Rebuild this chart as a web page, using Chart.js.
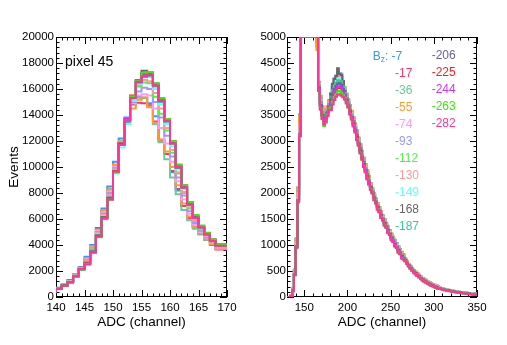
<!DOCTYPE html>
<html>
<head>
<meta charset="utf-8">
<script src="https://cdn.jsdelivr.net/npm/chart.js@4.4.1/dist/chart.umd.min.js"></script>
<style>
  html, body { margin: 0; padding: 0; background: #fff; }
  #wrap { position: relative; width: 507px; height: 345px; overflow: hidden; }
  canvas { position: absolute; top: 0; }
</style>
</head>
<body>
<div id="wrap">
  <canvas id="leftPanel" width="250" height="345" style="left:0;width:250px;height:345px"></canvas>
  <canvas id="rightPanel" width="257" height="345" style="left:250px;width:257px;height:345px"></canvas>
</div>
<script>
// B_z settings, one histogram each
const bzValues = [-7, -17, -36, -55, -74, -93, -112, -130, -149, -168, -187, -206, -225, -244, -263, -282];
const bzColors = ["#3399ff", "#ff3366", "#66cc99", "#ff9933", "#ff99ff", "#9999ff", "#55ee44", "#ff9999",
                  "#66ffff", "#666666", "#33cc99", "#666699", "#ff1a1a", "#cc33ff", "#33ee00", "#ff3399"];

// left panel: pedestal region, 1 ADC channel per bin (lower edges 140..169, last edge 170)
const leftBinEdges = [140, 141, 142, 143, 144, 145, 146, 147, 148, 149, 150, 151, 152, 153, 154, 155,
                      156, 157, 158, 159, 160, 161, 162, 163, 164, 165, 166, 167, 168, 169, 170];
const leftXTicks = [140, 145, 150, 155, 160, 165, 170];
const leftYTicks = [0, 2000, 4000, 6000, 8000, 10000, 12000, 14000, 16000, 18000, 20000];

const leftBz7   = [380,720,960,1300,1750,2300,3100,4000,5300,6800,8500,10400,12200,13800,15000,15400,15300,14900,13900,12000,11000,9600,8200,7000,6100,5400,4900,4450,4000,3750];
const leftBz17  = [370,700,950,1250,1700,2250,2950,3850,5300,6700,8300,10100,11900,13500,14800,14950,14900,14750,13500,12100,11000,9700,8300,7000,6050,5350,4850,4400,4000,3650];
const leftBz36  = [390,710,970,1240,1700,2250,3000,3900,5200,6700,8300,10200,12000,13600,14900,15200,15350,14650,13300,11900,10600,9200,7900,6700,5900,5250,4800,4400,4050,3700];
const leftBz55  = [380,700,960,1230,1690,2230,2950,3850,5150,6650,8250,10150,11950,13550,14500,15200,15350,14600,13400,12100,11200,10000,8600,7200,6200,5400,4900,4450,4050,3750];
const leftBz74  = [370,690,940,1210,1680,2200,2900,3800,5100,6500,8100,10000,11900,13500,14900,15500,15600,15500,14500,13000,11800,10400,8900,7500,6400,5600,5000,4550,4150,3800];
const leftBz93  = [360,680,930,1200,1660,2180,2850,3750,5000,6400,8000,9900,11800,13400,15000,15800,16100,16000,15000,13800,12400,10800,9200,7800,6600,5700,5100,4600,4200,3850];
const leftBz112 = [350,670,920,1190,1650,2170,2800,3700,4950,6350,7900,9800,11750,13500,15200,16200,16500,16450,15400,14100,12800,11100,9500,8000,6800,5850,5200,4650,4250,3850];
const leftBz130 = [350,660,910,1180,1640,2160,2750,3650,4900,6300,7850,9800,11800,13550,15300,16300,16700,16600,15700,14500,13000,11300,9600,8100,6900,5900,5250,4700,4250,3900];
const leftBz149 = [340,650,900,1170,1620,2150,2700,3600,4800,6200,7700,9500,11500,13300,15100,16400,16900,16900,16000,14800,13300,11600,9800,8300,7050,6000,5300,4750,4300,3900];
const leftBz168 = [340,640,890,1160,1610,2140,2650,3550,4750,6150,7650,9700,11700,13500,15400,16700,17400,17200,16300,15000,13500,11800,9950,8400,7100,6050,5350,4800,4300,3950];
const leftBz187 = [340,640,890,1150,1610,2140,2650,3550,4700,6100,7600,9650,11700,13500,15300,16600,17100,17000,16200,15000,13500,11800,10000,8450,7150,6100,5350,4800,4350,3950];
const leftBz206 = [330,630,880,1140,1600,2150,2600,3500,4700,6100,7600,9700,11800,13600,15400,16550,17150,17100,16300,15100,13600,11850,10050,8500,7200,6150,5400,4850,4350,4000];
const leftBz225 = [330,620,870,1130,1590,2140,2600,3450,4650,6050,7550,9650,11800,13650,15500,16650,17200,17250,16400,15200,13650,11900,10100,8550,7250,6200,5450,4900,4400,4000];
const leftBz244 = [330,620,870,1130,1590,2130,2550,3450,4650,6050,7500,9600,11750,13700,15400,16500,17100,17200,16400,15200,13700,11950,10150,8600,7300,6250,5450,4900,4450,4050];
const leftBz263 = [320,610,860,1120,1580,2120,2550,3400,4600,6000,7500,9600,11700,13600,15450,16650,17250,17300,16450,15300,13700,12000,10200,8600,7300,6300,5500,4950,4450,4050];
const leftBz282 = [330,620,870,1130,1600,2150,2500,3450,4650,6050,7500,9650,11700,13600,15300,16550,16950,17100,16250,15150,13550,11800,10000,8450,7150,6100,5350,4800,4300,3950];

// right panel: full spectrum, 2 ADC channels per bin from 130 to 350
const rightBinStart = 130;
const rightBinWidth = 2;
const rightXTicks = [150, 200, 250, 300, 350];
const rightYTicks = [0, 500, 1000, 1500, 2000, 2500, 3000, 3500, 4000, 4500, 5000];

const rightBz7 = [0,0,0,30,160,520,1120,2100,3500,6100,9600,13000,15400,15600,13300,10300,7900,6100,4900,
  4140,3860,3670,3530,3610,3650,3790,3920,4050,4120,4200,4220,4250,4190,4140,3990,3910,3790,3690,3560,3460,3320,3200,3050,2940,2790,2680,2540,2440,2310,
  2190,2070,1990,1880,1810,1720,1630,1570,1480,1430,1340,1290,1200,1160,1080,1040,960,920,850,820,
  740,680,630,600,550,520,480,450,430,390,360,350,320,300,290,260,250,230,220,200,
  180,172,158,152,144,139,129,126,117,113,106,103,96,93,87,85,79,77,71,69,63];
const rightBz17 = [0,0,0,30,150,510,1100,2080,3450,6000,9400,12700,15000,15100,13000,10100,7800,6000,4850,
  4080,3810,3620,3470,3550,3620,3730,3800,3910,4010,4050,4090,4120,4070,3990,3960,3870,3750,3650,3520,3420,3280,3160,3010,2900,2750,2640,2500,2400,2270,
  2160,2050,1960,1860,1780,1690,1620,1530,1470,1390,1330,1250,1190,1120,1070,1000,950,880,840,780,
  720,680,620,580,540,500,470,440,410,380,350,330,310,290,270,250,240,220,210,190,
  175,166,154,146,140,132,126,119,113,106,102,96,92,86,83,78,75,70,67,62,59];
const rightBz36 = [0,0,0,30,170,530,1130,2110,3520,6050,9500,12800,15200,15400,13200,10200,7700,5900,4800,
  4120,3870,3650,3540,3580,3670,3770,3900,4050,4190,4230,4290,4300,4250,4150,4040,3890,3810,3670,3580,3440,3340,3180,3070,2920,2810,2660,2560,2420,2330,
  2180,2090,1970,1900,1790,1730,1640,1550,1500,1410,1360,1270,1220,1140,1100,1020,980,900,870,800,
  730,690,630,590,560,510,490,450,420,400,360,340,330,300,280,270,250,230,220,210,
  178,171,161,150,146,137,131,124,119,111,108,101,98,91,89,83,81,75,73,67,65];
const rightBz55 = [0,0,0,30,160,520,1110,2090,3480,6000,9300,12600,15000,15300,13100,10000,7600,5800,4750,
  4120,3850,3670,3520,3600,3670,3780,3900,4060,4150,4230,4250,4280,4230,4130,4010,3910,3800,3690,3570,3460,3330,3200,3060,2940,2800,2680,2550,2440,2320,
  2190,2080,1990,1890,1810,1720,1650,1560,1500,1420,1360,1280,1220,1150,1100,1030,980,910,870,810,
  740,690,640,600,560,520,490,460,430,400,370,350,330,310,290,270,250,240,220,210,
  181,172,162,152,147,139,132,126,120,113,109,103,98,93,89,85,81,77,73,69,65];
const rightBz74 = [0,0,0,25,140,480,1060,1990,3320,5800,9000,12400,15000,15500,13600,10700,8200,6300,5000,
  4100,3800,3590,3480,3520,3630,3740,3880,4040,4180,4250,4270,4310,4250,4120,3990,3850,3770,3630,3540,3400,3300,3140,3030,2880,2770,2620,2520,2380,2290,
  2150,2060,1950,1870,1770,1700,1610,1540,1460,1400,1320,1260,1180,1130,1060,1010,940,890,830,790,
  720,670,625,580,545,500,475,440,410,385,350,335,310,295,270,255,235,225,205,195,
  175,165,156,145,141,133,125,121,113,107,102,97,92,87,83,79,75,71,67,63,59];
const rightBz93 = [0,0,0,25,140,470,1050,1980,3300,5750,8900,12300,15100,15700,13800,10900,8300,6400,5050,
  4080,3820,3600,3490,3530,3610,3750,3910,4080,4210,4260,4320,4310,4300,4160,3990,3870,3760,3650,3520,3420,3280,3160,3010,2900,2750,2640,2500,2400,2270,
  2160,2050,1960,1860,1780,1690,1620,1530,1470,1390,1330,1250,1190,1120,1070,1000,950,880,840,780,
  725,670,620,585,540,505,470,445,410,380,355,330,315,290,275,250,240,220,210,190,
  176,164,157,144,142,131,127,119,114,106,103,96,93,86,84,78,76,70,68,62,60];
const rightBz112 = [0,0,0,25,140,470,1040,1970,3290,5700,8800,12200,15000,16000,14200,11300,8700,6600,5100,
  4060,3740,3560,3410,3490,3570,3710,3850,3990,4080,4140,4170,4200,4150,4070,3910,3830,3710,3610,3480,3380,3240,3120,2970,2860,2710,2600,2460,2360,2230,
  2140,2020,1940,1830,1760,1660,1600,1500,1450,1360,1310,1220,1170,1090,1050,970,930,850,820,750,
  715,655,615,565,535,485,465,425,405,365,345,315,305,275,265,235,230,205,200,175,
  173,157,153,137,138,125,123,112,111,99,100,89,90,79,81,71,73,63,65,55,57];
const rightBz130 = [0,0,0,25,140,480,1050,1990,3310,5750,8900,12300,15100,15900,14000,11100,8500,6500,5050,
  4100,3790,3610,3460,3540,3610,3750,3870,4000,4070,4150,4170,4200,4150,4090,3970,3850,3770,3630,3540,3400,3300,3140,3030,2880,2770,2620,2520,2380,2290,
  2160,2050,1970,1860,1780,1690,1630,1530,1470,1390,1340,1250,1190,1120,1080,1000,960,880,850,780,
  730,670,630,580,550,500,480,440,420,380,360,330,320,290,280,250,245,220,215,190,
  178,166,158,146,143,133,128,120,116,107,105,97,95,87,86,79,78,71,70,63,62];
const rightBz149 = [0,0,0,20,120,440,980,1870,3150,5600,8700,12200,15200,16300,14500,11600,8900,6700,5150,
  4040,3760,3540,3430,3470,3590,3690,3870,4010,4100,4160,4200,4210,4180,4080,3950,3810,3730,3590,3500,3360,3260,3100,2990,2840,2730,2580,2480,2340,2250,
  2120,2040,1920,1850,1740,1680,1580,1520,1430,1380,1290,1240,1150,1110,1030,990,910,870,800,770,
  705,665,605,575,525,495,455,435,395,375,335,325,295,285,255,245,220,215,190,185,
  167,163,147,143,132,131,117,118,105,105,94,95,84,85,75,77,67,69,59,61,51];
const rightBz168 = [0,0,0,20,120,440,980,1860,3140,5600,8800,12300,15300,16500,14700,11700,9000,6800,5150,
  4050,3740,3540,3410,3470,3580,3700,3910,4100,4190,4250,4400,4290,4270,4150,3960,3820,3720,3600,3490,3380,3240,3120,2970,2860,2710,2600,2460,2360,2230,
  2120,2030,1920,1840,1750,1670,1580,1510,1430,1370,1290,1230,1150,1100,1030,980,910,860,800,760,
  700,660,600,570,520,490,450,430,390,370,330,320,290,280,250,240,220,210,190,180,
  168,159,148,140,133,128,118,115,106,102,95,92,85,82,76,74,68,66,60,58,52];
const rightBz187 = [0,0,0,20,120,440,970,1860,3130,5550,8700,12200,15300,16500,14800,11800,9100,6800,5150,
  4040,3760,3560,3410,3490,3570,3710,3850,3980,4050,4120,4170,4160,4150,4050,3930,3810,3730,3590,3500,3360,3260,3100,2990,2840,2730,2580,2480,2340,2250,
  2140,2030,1940,1840,1760,1670,1600,1510,1450,1370,1310,1230,1170,1100,1050,980,930,860,820,760,
  715,655,615,565,535,485,465,425,405,365,345,315,305,275,265,235,230,205,200,175,
  172,158,152,138,137,126,122,113,110,100,99,90,89,80,80,72,72,64,64,56,56];
const rightBz206 = [0,0,0,20,120,430,970,1850,3120,5500,8600,12100,15300,16600,14900,11900,9200,6900,5200,
  4010,3690,3490,3360,3420,3540,3660,3800,3910,4000,4060,4100,4110,4080,4000,3880,3780,3680,3560,3450,3320,3210,3080,2940,2800,2680,2560,2430,2300,2200,
  2100,2010,1900,1820,1720,1650,1560,1490,1410,1350,1270,1210,1130,1080,1010,960,890,840,780,740,
  700,645,600,555,520,475,450,415,390,355,330,305,290,265,250,225,215,195,185,165,
  165,155,145,135,130,123,115,110,103,97,92,87,82,77,73,69,65,61,57,53,49];
const rightBz225 = [0,0,0,20,120,430,960,1850,3110,5500,8600,12100,15300,16700,15000,12000,9300,7000,5250,
  4010,3680,3500,3350,3430,3540,3660,3730,3820,3930,3970,4030,4020,4010,3910,3870,3790,3670,3570,3440,3340,3200,3080,2930,2820,2670,2560,2420,2320,2190,
  2110,2000,1910,1810,1730,1640,1570,1480,1420,1340,1280,1200,1140,1070,1020,950,900,830,790,730,
  705,640,605,550,525,470,455,410,395,350,335,300,295,260,255,220,220,190,190,160,
  166,154,146,134,131,122,116,109,104,96,93,86,83,76,74,68,66,60,58,52,50];
const rightBz244 = [0,0,0,20,120,430,960,1840,3110,5500,8600,12100,15400,16800,15100,12100,9300,7000,5250,
  4000,3680,3490,3370,3430,3550,3650,3750,3840,3950,3990,4050,4040,4030,3930,3890,3770,3690,3550,3460,3320,3220,3060,2950,2800,2690,2540,2440,2300,2210,
  2100,2010,1900,1820,1720,1650,1560,1490,1410,1350,1270,1210,1130,1080,1010,960,890,840,780,740,
  695,650,595,560,515,480,445,420,385,360,325,310,285,270,245,230,210,200,180,170,
  164,156,144,136,129,124,114,111,102,98,91,88,81,78,72,70,64,62,56,54,48];
const rightBz263 = [0,0,0,20,110,420,950,1830,3100,5500,8700,12200,15400,16900,15200,12200,9400,7100,5300,
  3970,3620,3420,3290,3350,3500,3620,3650,3760,3850,3910,3950,3960,3930,3880,3830,3740,3640,3520,3410,3290,3160,3030,2910,2770,2630,2510,2400,2270,2160,
  2070,1990,1870,1800,1690,1630,1530,1470,1380,1330,1240,1190,1100,1060,980,940,860,820,750,720,
  690,635,590,545,510,465,440,405,380,345,320,295,280,255,240,215,205,185,175,155,
  162,149,142,129,127,117,112,104,100,91,89,81,79,71,70,63,62,55,54,47,46];
const rightBz282 = [0,0,0,20,110,420,940,1820,3090,5500,8700,12300,15500,17000,15300,12300,9500,7100,5300,
  3960,3600,3430,3320,3370,3480,3600,3590,3700,3790,3850,3890,3900,3870,3840,3800,3720,3650,3510,3420,3280,3180,3020,2910,2760,2650,2500,2400,2260,2170,
  2060,1990,1860,1800,1680,1630,1520,1470,1370,1330,1230,1190,1090,1060,970,940,850,820,740,720,
  685,640,585,550,505,470,435,410,375,350,315,300,275,260,235,220,200,190,170,160,
  160,151,140,131,125,119,110,106,98,93,87,83,77,73,68,65,60,57,52,49,44];

const leftCounts = [leftBz7, leftBz17, leftBz36, leftBz55, leftBz74, leftBz93, leftBz112, leftBz130,
                    leftBz149, leftBz168, leftBz187, leftBz206, leftBz225, leftBz244, leftBz263, leftBz282];
const rightCounts = [rightBz7, rightBz17, rightBz36, rightBz55, rightBz74, rightBz93, rightBz112, rightBz130,
                     rightBz149, rightBz168, rightBz187, rightBz206, rightBz225, rightBz244, rightBz263, rightBz282];
const rightBinEdges = Array.from({ length: rightBz7.length + 1 }, (_, i) => rightBinStart + i * rightBinWidth);

const FONT = '"Liberation Sans", Arial, Helvetica, sans-serif';
Chart.defaults.font.family = FONT;
Chart.defaults.color = "#000";

// step histogram points; bins above the frame are drawn along the frame top like ROOT does
function histPoints(edges, counts, yMax) {
  const pts = counts.map((c, i) => ({ x: edges[i], y: Math.min(c, yMax) }));
  pts.push({ x: edges[counts.length], y: Math.min(counts[counts.length - 1], yMax) });
  return pts;
}

function makeDatasets(edges, counts, yMax) {
  // index 0 is drawn last by Chart.js, so reverse to keep -282 on top
  return bzValues.map((bz, i) => ({
    label: "Bz " + bz,
    data: histPoints(edges, counts[i], yMax),
    borderColor: bzColors[i],
    borderWidth: 2,
    stepped: "after",
    pointRadius: 0,
    fill: false,
    tension: 0
  })).reverse();
}

// frame with inside ticks on all four sides
const rootFrame = {
  id: "rootFrame",
  beforeDatasetsDraw(chart, args, opts) {
    const { ctx, chartArea: a, scales: { x, y } } = chart;
    const isMajor = (v, step) => Math.abs(v / step - Math.round(v / step)) < 1e-6;
    ctx.save();
    ctx.strokeStyle = "#000";
    ctx.lineWidth = 1;
    ctx.strokeRect(a.left + 0.5, a.top + 0.5, a.right - a.left - 1, a.bottom - a.top - 1);
    ctx.beginPath();
    for (let v = Math.ceil(x.min / opts.xMinor) * opts.xMinor; v <= x.max + 1e-9; v += opts.xMinor) {
      const px = Math.round(x.getPixelForValue(v)) + 0.5;
      const len = isMajor(v, opts.xMajor) ? 7 : 3.5;
      ctx.moveTo(px, a.bottom); ctx.lineTo(px, a.bottom - len);
      ctx.moveTo(px, a.top); ctx.lineTo(px, a.top + len);
    }
    for (let v = Math.ceil(y.min / opts.yMinor) * opts.yMinor; v <= y.max + 1e-9; v += opts.yMinor) {
      const py = Math.round(y.getPixelForValue(v)) + 0.5;
      const len = isMajor(v, opts.yMajor) ? 7 : 3.5;
      ctx.moveTo(a.left, py); ctx.lineTo(a.left + len, py);
      ctx.moveTo(a.right, py); ctx.lineTo(a.right - len, py);
    }
    ctx.stroke();
    ctx.restore();
  }
};

const pixelLabel = {
  id: "pixelLabel",
  afterDraw(chart) {
    const { ctx, chartArea: a } = chart;
    ctx.save();
    ctx.font = "14px " + FONT;
    ctx.fillStyle = "#000";
    ctx.textBaseline = "alphabetic";
    ctx.fillText("pixel 45", a.left + 9, a.top + 29);
    ctx.restore();
  }
};

const bzLegend = {
  id: "bzLegend",
  afterDraw(chart) {
    const { ctx, chartArea: a } = chart;
    ctx.save();
    ctx.textBaseline = "middle";
    bzValues.forEach((bz, i) => {
      const col = i < 11 ? 0 : 1;
      const row = col ? i - 11 : i;
      const y = a.top + (col ? 18.5 : 19.5) + row * 17.04;
      let x = a.left + (col ? 144.7 : 108);
      ctx.fillStyle = bzColors[i];
      ctx.font = "12px " + FONT;
      if (i === 0) {
        x = a.left + 85.7;
        ctx.fillText("B", x, y);
        x += ctx.measureText("B").width;
        ctx.font = "8.5px " + FONT;
        ctx.fillText("z", x, y + 3.5);
        x += ctx.measureText("z").width;
        ctx.font = "12px " + FONT;
        ctx.fillText(": " + bz, x, y);
      } else {
        ctx.fillText(String(bz), x, y);
      }
    });
    ctx.restore();
  }
};

function panelOptions(cfg) {
  return {
    responsive: false,
    devicePixelRatio: 1,
    animation: false,
    layout: { padding: { left: 0, top: 37, right: cfg.padRight, bottom: 0 } },
    plugins: {
      legend: { display: false },
      tooltip: { enabled: false },
      rootFrame: cfg.frame
    },
    scales: {
      x: {
        type: "linear",
        min: cfg.xMin,
        max: cfg.xMax,
        grid: { display: false, drawTicks: false },
        border: { display: false },
        afterBuildTicks: (s) => { s.ticks = cfg.xTicks.map((v) => ({ value: v })); },
        afterFit: (s) => { s.height = 48; },
        ticks: { autoSkip: false, maxRotation: 0, padding: 4, font: { size: 11.5 }, color: "#000", callback: (v) => String(v) },
        title: { display: true, text: "ADC (channel)", font: { size: 13.5 }, color: "#000", padding: { top: 0, bottom: 15 } }
      },
      y: {
        type: "linear",
        min: cfg.yMin,
        max: cfg.yMax,
        grid: { display: false, drawTicks: false },
        border: { display: false },
        afterBuildTicks: (s) => { s.ticks = cfg.yTicks.map((v) => ({ value: v })); },
        afterFit: (s) => { s.width = cfg.yWidth; },
        ticks: { autoSkip: false, padding: cfg.yPad, font: { size: 11.5 }, color: "#000", callback: (v) => String(v) },
        title: cfg.yTitle
          ? { display: true, text: cfg.yTitle, font: { size: 13.5 }, color: "#000", padding: { top: 6, bottom: 0 } }
          : { display: false }
      }
    }
  };
}

new Chart(document.getElementById("leftPanel"), {
  type: "line",
  data: { datasets: makeDatasets(leftBinEdges, leftCounts, 20000) },
  options: panelOptions({
    xMin: 140, xMax: 170, yMin: 0, yMax: 20000,
    xTicks: leftXTicks, yTicks: leftYTicks,
    padRight: 23, yWidth: 56, yPad: 2, yTitle: "Events",
    frame: { xMajor: 5, xMinor: 1, yMajor: 2000, yMinor: 400 }
  }),
  plugins: [rootFrame, pixelLabel]
});

new Chart(document.getElementById("rightPanel"), {
  type: "line",
  data: { datasets: makeDatasets(rightBinEdges, rightCounts, 5000) },
  options: panelOptions({
    xMin: 130, xMax: 350, yMin: 0, yMax: 5000,
    xTicks: rightXTicks, yTicks: rightYTicks,
    padRight: 30, yWidth: 37, yPad: 1, yTitle: null,
    frame: { xMajor: 50, xMinor: 10, yMajor: 500, yMinor: 100 }
  }),
  plugins: [rootFrame, bzLegend]
});
</script>
</body>
</html>
